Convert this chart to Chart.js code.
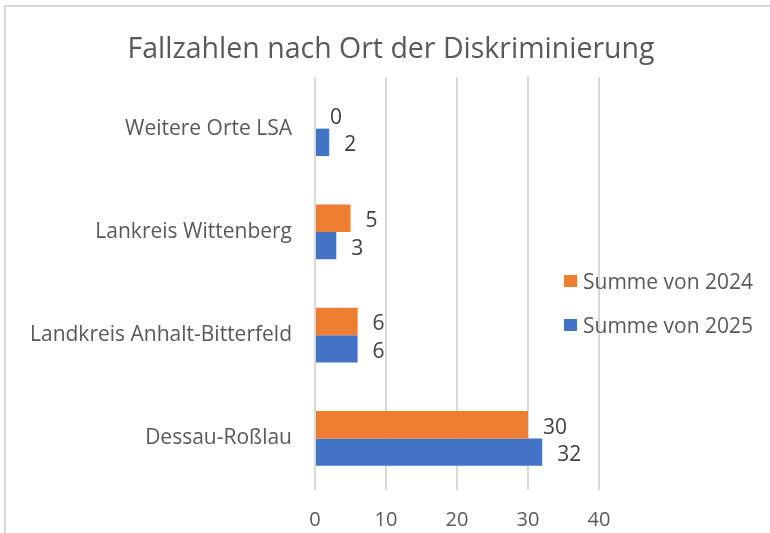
<!DOCTYPE html>
<html>
<head>
<meta charset="utf-8">
<script src="https://cdn.jsdelivr.net/npm/chart.js@4"></script>
<style>
	html, body { margin: 0; padding: 0; background: #fff; }
	#wrap { position: relative; width: 770px; height: 533px; }
</style>
</head>
<body>
<div id="wrap"><canvas id="mycanvas"></canvas></div>
<script>
// data
var orte = ["Weitere Orte LSA", "Lankreis Wittenberg", "Landkreis Anhalt-Bitterfeld", "Dessau-Roßlau"];
var summe2024 = [0, 5, 6, 30];
var summe2025 = [2, 3, 6, 32];
var xTicks = [0, 10, 20, 30, 40];
var titel = "Fallzahlen nach Ort der Diskriminierung";

var fontFam = "'Open Sans', 'Noto Sans', sans-serif";

// frame of the chart, only top and left edge are visible
var framePlugin = {
	id: "frame",
	beforeDraw: function(chart) {
		var ctx = chart.ctx;
		ctx.save();
		ctx.strokeStyle = "#d9d9d9";
		ctx.lineWidth = 2;
		ctx.beginPath();
		ctx.moveTo(5, chart.height);
		ctx.lineTo(5, 6);
		ctx.lineTo(chart.width, 6);
		ctx.stroke();
		ctx.restore();
	}
};

// title centred on the whole picture, not on the plot
var titlePlugin = {
	id: "bigTitle",
	afterDraw: function(chart) {
		var ctx = chart.ctx;
		ctx.save();
		ctx.font = "28.5px " + fontFam;
		ctx.fillStyle = "#595959";
		ctx.textAlign = "center";
		ctx.textBaseline = "alphabetic";
		ctx.fillText(titel, 391, 58);
		ctx.restore();
	}
};

// numbers next to the bars
var labelPlugin = {
	id: "barLabels",
	afterDatasetsDraw: function(chart) {
		var ctx = chart.ctx;
		ctx.save();
		ctx.font = "21px " + fontFam;
		ctx.fillStyle = "#404040";
		ctx.textAlign = "left";
		ctx.textBaseline = "middle";
		chart.data.datasets.forEach(function(ds, i) {
			var meta = chart.getDatasetMeta(i);
			meta.data.forEach(function(bar, j) {
				ctx.fillText(ds.data[j], bar.x + 15, bar.y + 3);
			});
		});
		ctx.restore();
	}
};

// legend sits inside the plot, on top of the grid
var legendPlugin = {
	id: "insideLegend",
	afterDraw: function(chart) {
		var ctx = chart.ctx;
		var x = 564, y = 281, step = 44;
		ctx.save();
		ctx.font = "21px " + fontFam;
		ctx.textAlign = "left";
		ctx.textBaseline = "middle";
		chart.data.datasets.forEach(function(ds, i) {
			ctx.fillStyle = ds.backgroundColor;
			ctx.fillRect(x, y + i * step - 6, 13, 12);
			ctx.fillStyle = "#595959";
			ctx.fillText(ds.label, x + 19, y + i * step + 2);
		});
		ctx.restore();
	}
};

var chartdata = {
	labels: orte,
	datasets: [
		{
			label: "Summe von 2024",
			backgroundColor: "#ED7D31",
			borderWidth: 0,
			barPercentage: 1,
			categoryPercentage: 0.53,
			data: summe2024
		},
		{
			label: "Summe von 2025",
			backgroundColor: "#4472C4",
			borderWidth: 0,
			barPercentage: 1,
			categoryPercentage: 0.53,
			data: summe2025
		}
	]
};

var ctx = document.getElementById("mycanvas");

var BarGraph = new Chart(ctx, {
	type: "bar",
	data: chartdata,
	plugins: [framePlugin, titlePlugin, labelPlugin, legendPlugin],
	options: {
		indexAxis: "y",
		responsive: true,
		maintainAspectRatio: false,
		animation: false,
		layout: { padding: { left: 5, right: 171, top: 77, bottom: 0 } },
		plugins: {
			legend: { display: false },
			tooltip: { enabled: false },
			title: { display: false }
		},
		scales: {
			x: {
				min: 0,
				max: 40,
				afterBuildTicks: function(scale) {
					scale.ticks = xTicks.map(function(v) { return { value: v }; });
				},
				afterFit: function(scale) { scale.height = 43; },
				grid: { color: "#d9d9d9", lineWidth: 2, drawTicks: false },
				border: { display: false },
				ticks: { color: "#595959", padding: 18, font: { family: fontFam, size: 20 } }
			},
			y: {
				afterFit: function(scale) { scale.width = 310; },
				grid: { display: false, drawTicks: false },
				border: { display: false },
				ticks: { color: "#595959", padding: 23, font: { family: fontFam, size: 21 } }
			}
		}
	}
});
</script>
</body>
</html>
